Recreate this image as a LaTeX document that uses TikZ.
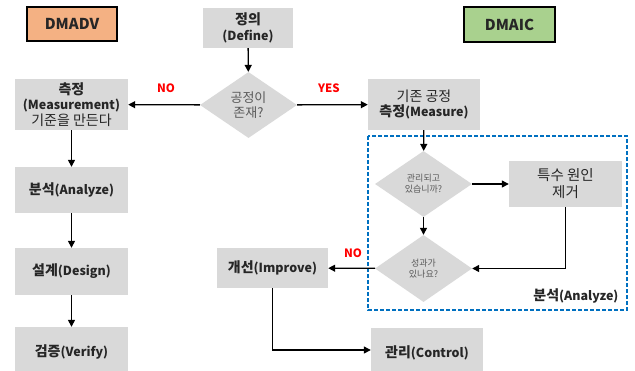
\documentclass[tikz,border=0pt]{standalone}
\usepackage{fontspec}
\setmainfont{Noto Sans CJK KR}
\usetikzlibrary{arrows.meta,shapes.geometric}
\definecolor{boxgray}{HTML}{D9D9D9}
\definecolor{dmadvfill}{HTML}{F4B183}
\definecolor{dmaicfill}{HTML}{A9D18E}
\definecolor{analyzeblue}{HTML}{0070C0}
\definecolor{txtdark}{HTML}{262626}
\definecolor{txtgray}{HTML}{595959}
% Hangul is set a little larger than the Latin text beside it
\newcommand\hg[1]{{\fontsize{14}{16}\selectfont #1}}
\begin{document}
\begin{tikzpicture}[x=1pt,y=-1pt,
  stepbox/.style={rectangle,fill=boxgray,draw=none,text=txtdark,align=center,inner sep=1pt,font=\fontsize{12.5}{15.5}\selectfont},
  decision/.style={diamond,fill=boxgray,draw=none,text=txtgray,align=center,inner sep=0pt,aspect=1.47},
  tag/.style={rectangle,draw=black,line width=1.4pt,font=\fontsize{15}{18}\selectfont\bfseries,text=txtdark},
  flow/.style={line width=1.3pt,-{Triangle[length=7pt,width=7pt]}},
  answer/.style={text=red,font=\fontsize{11.5}{13}\selectfont\bfseries}]
\clip (0,0) rectangle (635,370);
\useasboundingbox (0,0) rectangle (635,370);
\fill[white] (0,0) rectangle (635,370);

% method tags
\node[tag,fill=dmadvfill,minimum width=90pt,minimum height=34pt] (dmadv) at (72,24) {DMADV};
\node[tag,fill=dmaicfill,minimum width=91pt,minimum height=35pt] (dmaic) at (509.5,24.5) {DMAIC};

% start
\node[stepbox,minimum width=90pt,minimum height=40pt] (def) at (248,28) {\textbf{\hg{정의}}\\\textbf{(Define)}};
\node[decision,minimum width=97pt,minimum height=66pt,font=\fontsize{13}{15}\selectfont] (exist) at (248.5,105) {공정이\\존재?};

% DMADV branch
\node[stepbox,minimum width=113pt,minimum height=51pt] (meas) at (71.5,104.5) {\textbf{\hg{측정}}\\\textbf{(Measurement)}\\\hg{기준을 만든다}};
\node[stepbox,minimum width=113pt,minimum height=46pt] (ana) at (71.5,190) {\textbf{\hg{분석}(Analyze)}};
\node[stepbox,minimum width=113pt,minimum height=47pt] (des) at (71.5,271.5) {\textbf{\hg{설계}(Design)}};
\node[stepbox,minimum width=113pt,minimum height=50pt] (ver) at (71.5,352) {\textbf{\hg{검증}(Verify)}};

% DMAIC branch
\node[stepbox,minimum width=112pt,minimum height=51pt] (msr) at (424,104.5) {\hg{기존 공정}\\\textbf{\hg{측정}(Measure)}};
\node[decision,minimum width=97pt,minimum height=66pt,font=\fontsize{9}{11}\selectfont] (ctrlq) at (423.5,184) {관리되고\\있습니까?};
\node[stepbox,minimum width=113pt,minimum height=46pt,font=\fontsize{14.5}{17}\selectfont] (spc) at (565.5,184) {특수 원인\\제거};
\node[decision,minimum width=97pt,minimum height=67pt,font=\fontsize{9}{11}\selectfont] (perf) at (423.5,268.5) {성과가\\있나요?};
\node[stepbox,minimum width=111pt,minimum height=40pt] (imp) at (272.5,268) {\textbf{\hg{개선}(Improve)}};
\node[stepbox,minimum width=112pt,minimum height=50pt] (ctl) at (427,353) {\textbf{\hg{관리}(Control)}};

% analyze phase frame
\draw[analyzeblue,line width=1.3pt,dash pattern=on 4pt off 2pt] (368,136) rectangle (627,310);
\node[anchor=east,text=txtdark,font=\fontsize{12.5}{15}\selectfont\bfseries] (analbl) at (622,296) {\hg{분석}(Analyze)};

% connectors
\draw[flow] (def) -- (exist);
\draw[flow] (exist) -- (meas);
\draw[flow] (exist) -- (msr);
\node[answer] (no1) at (166,88) {NO};
\node[answer] (yes1) at (329,88) {YES};
\draw[flow] (meas) -- (ana);
\draw[flow] (ana) -- (des);
\draw[flow] (des) -- (ver);
\draw[flow] (msr) -- (ctrlq);
\draw[flow] (ctrlq) -- (spc);
\draw[flow] (ctrlq) -- (perf);
\draw[flow] (spc.south) |- (perf.east);
\draw[flow] (perf) -- (imp);
\node[answer] (no2) at (353,253) {NO};
\draw[flow] (imp.south) |- ([yshift=3pt]ctl.west);
\end{tikzpicture}
\end{document}
